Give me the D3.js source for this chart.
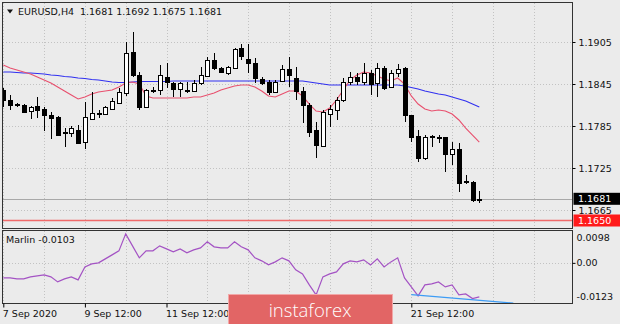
<!DOCTYPE html>
<html>
<head>
<meta charset="utf-8">
<script src="https://d3js.org/d3.v7.min.js"></script>
<style>
  body { margin: 0; background: #ebebeb; }
  svg text { font-family: "DejaVu Sans", sans-serif; font-size: 9.5px; fill: #111; }
</style>
</head>
<body>
<div id="root"></div>
<script>
// EURUSD H4 candles, bar 0 = 7 Sep 2020 12:00
var opens = [1.1836,1.1822,1.1816,1.1815,1.1806,1.1814,1.1809,1.1801,1.1798,1.1776,
  1.1775,1.1779,1.1762,1.1796,1.1803,1.1802,1.1809,1.1819,1.1832,1.1891,
  1.1858,1.1812,1.1836,1.1836,1.1855,1.1846,1.1838,1.1836,1.1835,1.1846,
  1.1856,1.1879,1.1868,1.1861,1.1868,1.1896,1.1881,1.1875,1.1852,1.1848,
  1.1834,1.1849,1.1866,1.1854,1.1835,1.1815,1.1779,1.1756,1.1802,1.1808,
  1.1822,1.1848,1.1855,1.1848,1.1861,1.1846,1.1868,1.1841,1.1861,1.1868,
  1.1801,1.1771,1.1739,1.1769,1.1769,1.1769,1.1745,1.1752,1.1704,1.1705,
  1.1681];
var highs = [1.1839,1.1829,1.1818,1.1816,1.1814,1.1826,1.1812,1.1805,1.1799,1.1782,
  1.1785,1.1786,1.1819,1.1834,1.1808,1.1814,1.1825,1.1839,1.1905,1.1919,
  1.1862,1.1838,1.1841,1.1872,1.1875,1.1848,1.1848,1.1848,1.1851,1.1869,
  1.1884,1.1889,1.1869,1.1871,1.1896,1.1902,1.1902,1.1882,1.1855,1.1851,
  1.1851,1.1872,1.1884,1.1869,1.1841,1.1818,1.1791,1.1808,1.1815,1.1826,
  1.1854,1.1862,1.1861,1.1875,1.1865,1.1875,1.1871,1.1865,1.1874,1.1869,
  1.1801,1.1779,1.1772,1.1772,1.1772,1.1769,1.1762,1.1761,1.1715,1.1706,
  1.1692];
var lows = [1.1812,1.1808,1.1812,1.1804,1.1795,1.1796,1.1778,1.1766,1.1771,1.1755,
  1.1769,1.1759,1.1752,1.1795,1.1796,1.1801,1.1808,1.1818,1.1828,1.1855,
  1.1808,1.1811,1.1832,1.1829,1.1839,1.1826,1.1826,1.1832,1.1834,1.1844,
  1.1855,1.1865,1.1861,1.1858,1.1866,1.1879,1.1861,1.1846,1.1844,1.1829,
  1.1832,1.1848,1.1841,1.1822,1.1789,1.1769,1.1739,1.1755,1.1784,1.1794,
  1.1819,1.1844,1.1844,1.1844,1.1829,1.1826,1.1836,1.1839,1.1855,1.1791,
  1.1762,1.1734,1.1736,1.1755,1.1761,1.1719,1.1729,1.1691,1.1702,1.1676,
  1.1675];
var closes = [1.1822,1.1815,1.1814,1.1805,1.1812,1.1808,1.1801,1.1796,1.1772,1.1775,
  1.1782,1.1761,1.1798,1.1804,1.1804,1.1812,1.1821,1.1834,1.1889,1.1858,
  1.1812,1.1836,1.1837,1.1858,1.1848,1.1838,1.1846,1.1834,1.1846,1.1858,
  1.1879,1.1868,1.1862,1.1869,1.1895,1.1884,1.1875,1.1854,1.1846,1.1834,
  1.1848,1.1866,1.1858,1.1836,1.1815,1.1776,1.1758,1.1805,1.1809,1.1822,
  1.1848,1.1855,1.1849,1.1861,1.1845,1.1868,1.1839,1.1861,1.1866,1.1801,
  1.1769,1.1739,1.1769,1.1770,1.1769,1.1744,1.1752,1.1704,1.1706,1.1679,
  1.1681];

// moving averages
var maFast = [1.18721,1.18679,1.1865,1.18621,1.18593,1.1855,1.18507,1.18464,1.18407,1.1835,
  1.18293,1.18236,1.18264,1.18307,1.18336,1.1835,1.18364,1.18407,1.18464,1.18479,
  1.1845,1.18279,1.1825,1.1825,1.1825,1.1825,1.1825,1.1825,1.18264,1.18264,
  1.18293,1.18321,1.18364,1.18393,1.18421,1.18436,1.18436,1.18407,1.1835,1.18279,
  1.18264,1.18307,1.1835,1.1835,1.18279,1.18164,1.18064,1.1805,1.18107,1.18221,
  1.18364,1.18507,1.18579,1.18621,1.18607,1.18564,1.18521,1.18493,1.18536,1.1845,
  1.18279,1.18164,1.18093,1.18064,1.18079,1.18064,1.18021,1.17936,1.17821,1.17721,
  1.17621];
var maSlow = [1.18621,1.18621,1.18614,1.18607,1.18607,1.186,1.18593,1.18579,1.18571,1.18557,
  1.1855,1.18536,1.18529,1.18514,1.18507,1.18493,1.18479,1.18471,1.18471,1.18479,
  1.18486,1.18486,1.18486,1.18486,1.18486,1.18493,1.18493,1.18493,1.18493,1.18493,
  1.18493,1.18493,1.18493,1.18493,1.18493,1.18493,1.18493,1.18493,1.18493,1.18493,
  1.18493,1.18493,1.18493,1.18493,1.18493,1.18479,1.18464,1.1845,1.18436,1.18436,
  1.18436,1.18436,1.18436,1.18436,1.18436,1.18436,1.18436,1.18436,1.18436,1.18421,
  1.184,1.18379,1.1835,1.18329,1.18307,1.18293,1.18264,1.18236,1.18207,1.18164,
  1.18121];

// Marlin oscillator
var marlin = [-0.00455,-0.00455,-0.00485,-0.00485,-0.00424,-0.00394,-0.00364,-0.00424,-0.00576,-0.00485,
  -0.00424,-0.00515,-0.00121,-0.0003,0.0,0.00121,0.00242,0.00364,0.00879,0.00515,
  0.00152,0.00364,0.00364,0.00515,0.00424,0.00333,0.00424,0.00303,0.00394,0.00455,
  0.00636,0.00485,0.00455,0.00455,0.00636,0.00485,0.00394,0.00152,0.00061,-0.00061,
  0.0003,0.00152,0.00061,-0.00212,-0.00333,-0.00667,-0.0097,-0.00424,-0.00333,-0.00273,
  -0.0003,0.00061,0.0003,0.00091,-0.00061,0.00121,-0.00121,0.0003,0.00152,-0.00455,
  -0.00727,-0.01,-0.00667,-0.00636,-0.00576,-0.00727,-0.00667,-0.0097,-0.00939,-0.0108,
  -0.0103];
var trendBars = [60, 75];
var trendVals = [-0.0096, -0.0122];

var priceTicks = [1.1905, 1.1845, 1.1785, 1.1725, 1.1665];
var marlinTicks = [0.0098, 0.0, -0.0123];
var timeTicks = [0, 12, 24, 36, 48, 60];
// labels of bars 36 and 48 sit under the watermark, so they stay blank
var timeLabels = ["7 Sep 2020", "9 Sep 12:00", "11 Sep 12:00", "", "", "21 Sep 12:00"];
var lastBid = 1.1681;
var levelLine = 1.1650;

var w = 620, h = 324;
var left = 2.5, right = 572.5;
var main = {top: 2.5, bottom: 228.5};
var sub = {top: 230.5, bottom: 303.5};
var fmt4 = function(v) { return v.toFixed(4); };

var svg = d3.select("#root").append("svg").attr("width", w).attr("height", h);
svg.append("rect").attr("width", "100%").attr("height", "100%").attr("fill", "#ebebeb");

var x = d3.scaleLinear().domain([0, 70]).range([3.3, 479.3]);
var y = d3.scaleLinear().domain([1.1640, 1.1960]).range([227.5, 3.5]);
var ym = d3.scaleLinear().domain([-0.0123, 0.0098]).range([sub.bottom, sub.top]);

var defs = svg.append("defs");
defs.append("clipPath").attr("id", "clipMain").append("rect")
  .attr("x", left).attr("y", main.top).attr("width", right - left).attr("height", main.bottom - main.top);
defs.append("clipPath").attr("id", "clipSub").append("rect")
  .attr("x", left).attr("y", sub.top).attr("width", right - left).attr("height", sub.bottom - sub.top);

// grid
var gridBars = d3.range(0, 85, 6).filter(function(i) { return x(i) < right - 2; });
var grid = svg.append("g").attr("stroke", "#c2c2c2").attr("stroke-dasharray", "1,2").attr("shape-rendering", "crispEdges");
[main, sub].forEach(function(p) {
  grid.selectAll(null).data(gridBars).enter().append("line")
    .attr("x1", function(d) { return Math.round(x(d)) + 0.5; })
    .attr("x2", function(d) { return Math.round(x(d)) + 0.5; })
    .attr("y1", p.top).attr("y2", p.bottom);
});
grid.selectAll(null).data(priceTicks).enter().append("line")
  .attr("x1", left).attr("x2", right)
  .attr("y1", function(d) { return Math.round(y(d)) + 0.5; })
  .attr("y2", function(d) { return Math.round(y(d)) + 0.5; });
grid.append("line").attr("x1", left).attr("x2", right)
  .attr("y1", Math.round(ym(0)) + 0.5).attr("y2", Math.round(ym(0)) + 0.5);

// level lines
var gm = svg.append("g").attr("clip-path", "url(#clipMain)");
gm.append("line").attr("x1", left).attr("x2", right)
  .attr("y1", Math.round(y(lastBid)) + 0.5).attr("y2", Math.round(y(lastBid)) + 0.5)
  .attr("stroke", "#a8a8a8").attr("shape-rendering", "crispEdges");
gm.append("line").attr("x1", left).attr("x2", right)
  .attr("y1", y(levelLine)).attr("y2", y(levelLine))
  .attr("stroke", "#f06a6a").attr("stroke-width", 1.6);

// moving averages
var line = d3.line().x(function(d, i) { return x(i); }).y(function(d) { return y(d); });
gm.append("path").datum(maSlow).attr("d", line).attr("fill", "none").attr("stroke", "#3030f0").attr("stroke-width", 1.1);
gm.append("path").datum(maFast).attr("d", line).attr("fill", "none").attr("stroke", "#e8506e").attr("stroke-width", 1.1);

// candles
var candles = gm.selectAll(".candle").data(d3.range(opens.length)).enter().append("g").attr("class", "candle")
  .attr("shape-rendering", "crispEdges");
candles.append("line")
  .attr("x1", function(i) { return Math.round(x(i)) + 0.5; })
  .attr("x2", function(i) { return Math.round(x(i)) + 0.5; })
  .attr("y1", function(i) { return Math.round(y(highs[i])); })
  .attr("y2", function(i) { return Math.round(y(lows[i])); })
  .attr("stroke", "#000");
candles.append("rect")
  .attr("x", function(i) { return Math.round(x(i)) - 1.5; })
  .attr("width", 4)
  .attr("y", function(i) { return Math.round(y(Math.max(opens[i], closes[i]))) + 0.5; })
  .attr("height", function(i) { return Math.max(0.5, Math.round(Math.abs(y(opens[i]) - y(closes[i])))); })
  .attr("fill", function(i) { return closes[i] >= opens[i] ? "#fff" : "#000"; })
  .attr("stroke", "#000");

// Marlin subwindow
var gs = svg.append("g").attr("clip-path", "url(#clipSub)");
var mline = d3.line().x(function(d, i) { return x(i); }).y(function(d) { return ym(d); });
gs.append("path").datum(marlin).attr("d", mline).attr("fill", "none").attr("stroke", "#a453c4").attr("stroke-width", 1.2);
gs.append("line")
  .attr("x1", x(trendBars[0])).attr("y1", ym(trendVals[0]))
  .attr("x2", x(trendBars[1])).attr("y2", ym(trendVals[1]))
  .attr("stroke", "#3d9cf5").attr("stroke-width", 1.2);

// panel borders
[main, sub].forEach(function(p) {
  svg.append("rect").attr("x", left).attr("y", p.top).attr("width", right - left).attr("height", p.bottom - p.top)
    .attr("fill", "none").attr("stroke", "#333").attr("shape-rendering", "crispEdges");
});

// price axis
var yAxis = d3.axisRight(y).tickValues(priceTicks).tickSize(3).tickPadding(3).tickFormat(fmt4);
var ga = svg.append("g").attr("transform", "translate(" + right + ",0)").call(yAxis);
ga.select(".domain").remove();
ga.selectAll("text").style("font-family", "DejaVu Sans").style("font-size", "9.5px").attr("fill", "#111");

// marlin axis
var mAxis = d3.axisRight(ym).tickValues(marlinTicks).tickSize(3).tickPadding(1)
  .tickFormat(function(d) { return d === 0 ? "0.00" : fmt4(d); });
var gma = svg.append("g").attr("transform", "translate(" + right + ",0)").call(mAxis);
gma.select(".domain").remove();
gma.selectAll("text").style("font-family", "DejaVu Sans").style("font-size", "9.5px").attr("fill", "#111")
  .attr("dy", function(d) { return d === 0.0098 ? "1.1em" : d === -0.0123 ? "-0.4em" : "0.32em"; });
gma.selectAll(".tick line").attr("display", function(d) { return d === 0 ? null : "none"; });

// price tags
function tag(v, bg) {
  var g = svg.append("g");
  g.append("rect").attr("x", right + 1).attr("y", y(v) - 6).attr("width", w - right).attr("height", 12).attr("fill", bg);
  g.append("text").attr("x", right + 5.5).attr("y", y(v) + 3.6).style("fill", "#fff").text(fmt4(v));
}
tag(lastBid, "#000");
tag(levelLine, "#ff1a1a");

// time axis
var xAxis = d3.axisBottom(x).tickValues(timeTicks).tickSize(4).tickPadding(3)
  .tickFormat(function(d, i) { return timeLabels[i]; });
var gx = svg.append("g").attr("transform", "translate(0," + sub.bottom + ")").call(xAxis);
gx.select(".domain").remove();
gx.selectAll("text").attr("text-anchor", "start").attr("dx", -1)
  .style("font-family", "DejaVu Sans").style("font-size", "9.5px").attr("fill", "#111");

// titles
svg.append("path").attr("d", "M7,9.5 L13,9.5 L10,13.5 Z").attr("fill", "#111");
svg.append("text").attr("x", 18).attr("y", 15).text("EURUSD,H4");
svg.append("text").attr("x", 80).attr("y", 15).text([opens[70], highs[70], lows[70], closes[70]].map(fmt4).join(" "));
svg.append("text").attr("x", 6).attr("y", 243).text("Marlin " + fmt4(marlin[70]));

// watermark
var logo = svg.append("g");
logo.append("rect").attr("x", 228.5).attr("y", 294.5).attr("width", 164).attr("height", 32)
  .attr("fill", "#e26565").attr("stroke", "#f2a7a7");
logo.append("text").attr("x", 310).attr("y", 317).attr("text-anchor", "middle")
  .style("font-family", "Open Sans").style("font-size", "18.5px").style("font-weight", 300)
  .style("fill", "#fff").text("instaforex");
</script>
</body>
</html>
